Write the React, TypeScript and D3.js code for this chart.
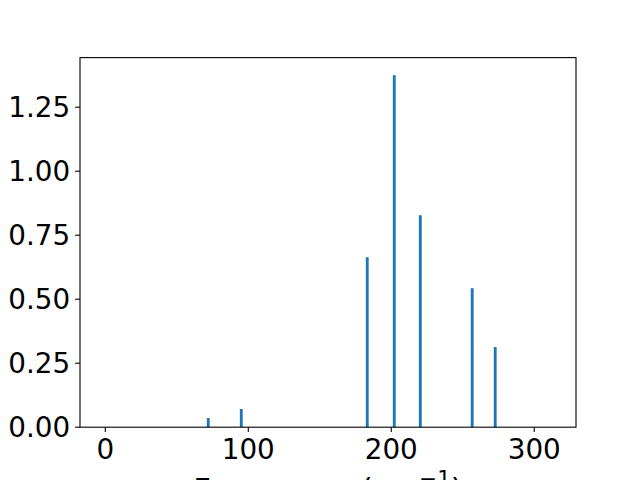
import React from "react";
import * as d3 from "d3";

const frequencies = [72.0, 95.1, 183.2, 202.1, 220.3, 256.6, 272.7];
const intensities = [0.036, 0.071, 0.664, 1.375, 0.828, 0.543, 0.313];
const xTicks = [0, 100, 200, 300];
const yTicks = [0, 0.25, 0.5, 0.75, 1.0, 1.25];
const barWidth = 2;

const W = 640;
const H = 480;
const left = 80;
const right = 576;
const top = 57.6;
const bottom = 427.2;
const font = "'DejaVu Sans', sans-serif";
const fs = 27.8;
const labelFs = 30.56;

export default function App() {
  const x = d3.scaleLinear().domain([-17.7, 329.2]).range([left, right]);
  const yMax = (d3.max(intensities) as number) * 1.05;
  const y = d3.scaleLinear().domain([0, yMax]).range([bottom, top]);
  const tickLen = 4.9;
  const pad = 4.9;

  return (
    <svg
      width={W}
      height={H}
      style={{ position: "absolute", left: 0, top: 0, background: "#fff" }}
    >
      <rect x={0} y={0} width={W} height={H} fill="#fff" />
      {frequencies.map((f, i) => {
        const x0 = x(f - barWidth / 2);
        const x1 = x(f + barWidth / 2);
        return (
          <rect
            key={i}
            x={x0}
            y={y(intensities[i])}
            width={x1 - x0}
            height={y(0) - y(intensities[i])}
            fill="#1f77b4"
          />
        );
      })}
      <rect
        x={left}
        y={top}
        width={right - left}
        height={bottom - top}
        fill="none"
        stroke="#000"
        strokeWidth={1.1}
      />
      {xTicks.map((t) => (
        <g key={"x" + t}>
          <line x1={x(t)} x2={x(t)} y1={bottom} y2={bottom + tickLen} stroke="#000" strokeWidth={1.1} />
          <text
            x={x(t)}
            y={bottom + tickLen + pad + 22}
            textAnchor="middle"
            fontFamily={font}
            fontSize={fs}
            fill="#000"
          >
            {t}
          </text>
        </g>
      ))}
      {yTicks.map((t) => (
        <g key={"y" + t}>
          <line x1={left - tickLen} x2={left} y1={y(t)} y2={y(t)} stroke="#000" strokeWidth={1.1} />
          <text
            x={left - tickLen - pad}
            y={y(t) + 10.1}
            textAnchor="end"
            fontFamily={font}
            fontSize={fs}
            fill="#000"
          >
            {t.toFixed(2)}
          </text>
        </g>
      ))}
      <text
        x={(left + right) / 2}
        y={500.3}
        textAnchor="middle"
        fontFamily={font}
        fontSize={labelFs}
        fill="#000"
      >
        Frequency (cm
        <tspan fontSize={labelFs * 0.7} dy={-14}>−1</tspan>
        <tspan dy={14}>)</tspan>
      </text>
    </svg>
  );
}
